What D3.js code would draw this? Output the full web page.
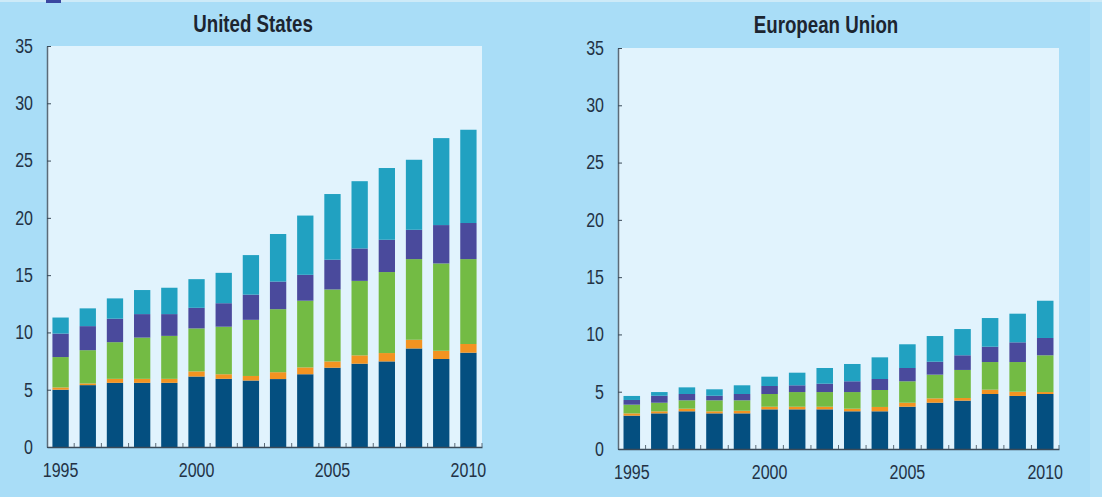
<!DOCTYPE html>
<html>
<head>
<meta charset="utf-8">
<script src="https://cdn.jsdelivr.net/npm/d3@7"></script>
<style>
  body { margin: 0; background: #a9ddf7; }
  svg { display: block; }
  .tick text, .label { font-family: "Liberation Sans", Arial, sans-serif; }
</style>
</head>
<body>
<div id="chart"></div>
<script>
// Years on the x axis
const years = d3.range(1995, 2011).map(String);
const yearLabels = ["1995", "2000", "2005", "2010"];
const yTicks = [0, 5, 10, 15, 20, 25, 30, 35];

// Series (bottom to top)
const seriesKeys = ["s1", "s2", "s3", "s4", "s5"];
const colors = ["#044f80", "#f39321", "#73bb44", "#4a4a9c", "#21a1c1"];

// United States
const usS1 = [5.0, 5.4, 5.6, 5.6, 5.6, 6.15, 5.95, 5.8, 5.93, 6.35, 6.92, 7.27, 7.47, 8.6, 7.68, 8.23];
const usS2 = [0.2, 0.15, 0.35, 0.35, 0.35, 0.45, 0.4, 0.4, 0.6, 0.6, 0.55, 0.73, 0.73, 0.76, 0.72, 0.76];
const usS3 = [2.65, 2.9, 3.2, 3.6, 3.75, 3.75, 4.15, 4.9, 5.5, 5.82, 6.28, 6.5, 7.07, 7.04, 7.62, 7.41];
const usS4 = [2.05, 2.1, 2.05, 2.05, 1.9, 1.8, 2.05, 2.2, 2.41, 2.26, 2.6, 2.83, 2.82, 2.56, 3.35, 3.15];
const usS5 = [1.4, 1.55, 1.77, 2.1, 2.3, 2.5, 2.65, 3.45, 4.15, 5.17, 5.73, 5.87, 6.26, 6.11, 7.59, 8.14];

// European Union
const euS1 = [2.91, 3.11, 3.29, 3.11, 3.11, 3.46, 3.46, 3.46, 3.29, 3.29, 3.69, 4.04, 4.22, 4.8, 4.63, 4.8];
const euS2 = [0.2, 0.18, 0.23, 0.18, 0.23, 0.23, 0.23, 0.23, 0.23, 0.38, 0.35, 0.38, 0.23, 0.38, 0.37, 0.17];
const euS3 = [0.76, 0.75, 0.73, 0.96, 0.91, 1.11, 1.28, 1.28, 1.45, 1.48, 1.87, 2.07, 2.45, 2.41, 2.59, 3.21];
const euS4 = [0.41, 0.61, 0.55, 0.4, 0.55, 0.7, 0.59, 0.73, 0.94, 0.96, 1.16, 1.13, 1.28, 1.34, 1.72, 1.51];
const euS5 = [0.35, 0.32, 0.58, 0.56, 0.76, 0.81, 1.1, 1.37, 1.51, 1.89, 2.07, 2.24, 2.29, 2.5, 2.5, 3.25];

const W = 1102, H = 497;
// narrow font look: squeeze Liberation Sans horizontally
const sx = 0.8;

const svg = d3.select("#chart")
  .append("svg")
  .attr("width", W)
  .attr("height", H);

svg.append("rect").attr("width", W).attr("height", H).attr("fill", "#a9ddf7");
svg.append("rect").attr("x", 1090).attr("width", 12).attr("height", H).attr("fill", "#b3e1f7");
svg.append("rect").attr("width", W).attr("height", 2).attr("fill", "#cdeaf8");
svg.append("rect").attr("x", 46).attr("width", 15).attr("height", 3).attr("fill", "#3a47a0");

function buildRows(series) {
  return years.map((yr, i) => {
    const row = {year: yr};
    seriesKeys.forEach((k, j) => { row[k] = series[j][i]; });
    return row;
  });
}

function drawPanel(title, series, box) {
  const x = d3.scaleBand().domain(years).range([box.left, box.right])
    .paddingInner(0.4).paddingOuter(0.2);
  const y = d3.scaleLinear().domain([0, 35]).range([box.bottom, box.top]);

  const g = svg.append("g");

  // Plot area
  g.append("rect")
    .attr("x", box.left).attr("y", box.top)
    .attr("width", box.right - box.left).attr("height", box.bottom - box.top)
    .attr("fill", "#e1f3fd");

  // Title
  g.append("g")
    .attr("transform", `translate(${box.titleX},${box.titleY})`)
    .append("text")
    .attr("class", "label")
    .attr("transform", `scale(0.78,1)`)
    .attr("text-anchor", "middle")
    .style("font-size", "24px").style("font-weight", "bold")
    .attr("fill", "#1c2530")
    .text(title);

  // Bars
  const stacked = d3.stack().keys(seriesKeys)(buildRows(series));
  g.selectAll("g.layer")
    .data(stacked)
    .enter().append("g")
    .attr("class", "layer")
    .attr("fill", (d, i) => colors[i])
    .selectAll("rect")
    .data(d => d)
    .enter().append("rect")
    .attr("x", d => x(d.data.year))
    .attr("width", x.bandwidth())
    .attr("y", d => y(d[1]))
    .attr("height", d => y(d[0]) - y(d[1]));

  // Y axis
  const yAxis = g.append("g")
    .attr("transform", `translate(${box.left},0)`)
    .call(d3.axisLeft(y).tickValues(yTicks).tickSizeInner(-4).tickSizeOuter(0).tickPadding(14));
  yAxis.select(".domain").attr("stroke", "#5b6b78").attr("stroke-width", 1.5);
  yAxis.selectAll(".tick line").attr("stroke", "#3a4a58");
  yAxis.selectAll(".tick text")
    .style("font-size", "20px").attr("fill", "#233245")
    .attr("x", -14 / sx)
    .attr("transform", `scale(${sx},1)`);

  // X axis
  const xAxis = g.append("g")
    .attr("transform", `translate(0,${box.bottom})`)
    .call(d3.axisBottom(x).tickValues(yearLabels).tickSize(0).tickPadding(16));
  xAxis.select(".domain").attr("stroke", "#3a4a58").attr("stroke-width", 1.5);
  xAxis.selectAll(".tick text")
    .style("font-size", "20px").attr("fill", "#233245")
    .attr("transform", `scale(${sx},1)`);

  // Small ticks between the bars
  const gap = (x.step() - x.bandwidth()) / 2;
  g.selectAll("line.bt")
    .data(years.slice(1).concat(["end"]))
    .enter().append("line")
    .attr("class", "bt")
    .attr("x1", d => d === "end" ? box.right : x(d) - gap)
    .attr("x2", d => d === "end" ? box.right : x(d) - gap)
    .attr("y1", box.bottom)
    .attr("y2", box.bottom - 4)
    .attr("stroke", "#5b6b78");
}

drawPanel("United States", [usS1, usS2, usS3, usS4, usS5],
  {left: 47, right: 482, top: 46, bottom: 447, titleX: 253, titleY: 32});
drawPanel("European Union", [euS1, euS2, euS3, euS4, euS5],
  {left: 618, right: 1059, top: 48, bottom: 449, titleX: 826, titleY: 33});
</script>
</body>
</html>
